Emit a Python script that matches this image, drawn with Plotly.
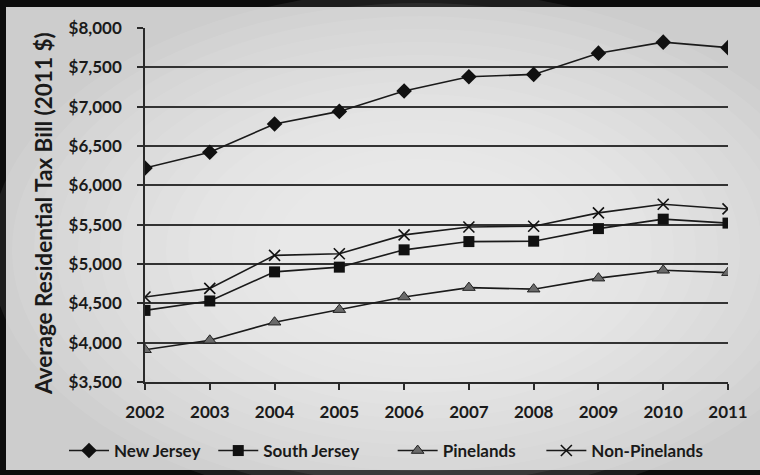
import plotly.graph_objects as go

years = [2002, 2003, 2004, 2005, 2006, 2007, 2008, 2009, 2010, 2011]
new_jersey = [6220, 6420, 6780, 6940, 7200, 7380, 7410, 7680, 7820, 7750]
south_jersey = [4410, 4530, 4900, 4960, 5180, 5285, 5290, 5450, 5570, 5520]
pinelands = [3910, 4030, 4260, 4420, 4580, 4700, 4680, 4820, 4920, 4890]
non_pinelands = [4580, 4690, 5110, 5130, 5370, 5470, 5480, 5650, 5760, 5700]
series_names = ["New Jersey", "South Jersey", "Pinelands", "Non-Pinelands"]
y_ticks = [3500, 4000, 4500, 5000, 5500, 6000, 6500, 7000, 7500, 8000]
y_tick_labels = ["$3,500", "$4,000", "$4,500", "$5,000", "$5,500",
                 "$6,000", "$6,500", "$7,000", "$7,500", "$8,000"]
y_title = "Average Residential Tax Bill (2011 $)"

FONT = "Lato"
W, H = 760, 475
L, R, T, B = 145, 32, 28, 93
PW, PH = W - L - R, H - T - B


def px_x(px):
    return (px - L) / PW


def px_y(py):
    return (H - B - py) / PH


fig = go.Figure()

markers = [
    dict(symbol="diamond", size=12, color="#111111", line=dict(width=0)),
    dict(symbol="square", size=11, color="#111111", line=dict(width=0)),
    dict(symbol="triangle-up", size=11, color="#6a6a6a",
         line=dict(width=1, color="#222222")),
    dict(symbol="x-thin-open", size=11, color="#111111",
         line=dict(width=1.6, color="#111111")),
]
values = [new_jersey, south_jersey, pinelands, non_pinelands]
pads = [2, 7, 5, 0]  # legend spacing (non-breaking spaces)
for name, vals, mk, p in zip(series_names, values, markers, pads):
    fig.add_trace(go.Scatter(
        x=years, y=vals, name=name + "\u00a0" * p, mode="lines+markers",
        line=dict(color="#1a1a1a", width=1.6),
        marker=mk,
    ))

shapes = [
    dict(type="rect", xref="paper", yref="paper", layer="below",
         x0=px_x(6), x1=px_x(760), y0=px_y(470), y1=px_y(7),
         fillcolor="#cdcdcd", line=dict(width=0)),
]
# smooth lighter centre (photocopy look)
cx, cy = 420, 250
for i in range(14):
    rx = 430 - i * 22
    ry = 260 - i * 13
    shapes.append(dict(type="circle", xref="paper", yref="paper", layer="below",
                       x0=px_x(cx - rx), x1=px_x(cx + rx),
                       y0=px_y(cy + ry), y1=px_y(cy - ry),
                       fillcolor="rgba(255,255,255,0.07)", line=dict(width=0)))

fig.update_layout(
    width=W, height=H,
    margin=dict(l=L, r=R, t=T, b=B, autoexpand=False),
    paper_bgcolor="#0c0c0c",
    plot_bgcolor="rgba(0,0,0,0)",
    font=dict(family=FONT, color="#1a1a1a"),
    shapes=shapes,
    showlegend=True,
    legend=dict(orientation="h", x=px_x(64), xanchor="left",
                y=px_y(451), yanchor="middle",
                font=dict(family=FONT, size=17, color="#1a1a1a", weight="bold"),
                bgcolor="rgba(0,0,0,0)", itemwidth=40, tracegroupgap=0),
    annotations=[dict(text=y_title, xref="paper", yref="paper",
                      x=px_x(44), y=px_y(214), textangle=-90,
                      showarrow=False, xanchor="center", yanchor="middle",
                      font=dict(family=FONT, size=22.5, color="#1a1a1a", weight="bold"))],
)

fig.update_xaxes(
    range=[2002, 2011], tickmode="array", tickvals=years,
    ticktext=[str(y) for y in years],
    showgrid=False, zeroline=False,
    showline=True, linecolor="#2a2a2a", linewidth=1.5,
    ticks="outside", ticklen=6, tickwidth=1.5, tickcolor="#2a2a2a",
    tickfont=dict(family=FONT, size=17, color="#1a1a1a", weight="bold"),
    ticklabelstandoff=8,
)
fig.update_yaxes(
    range=[3500, 8000], tickmode="array", tickvals=y_ticks, ticktext=y_tick_labels,
    showgrid=True, gridcolor="#333333", gridwidth=1.5, zeroline=False,
    showline=True, linecolor="#2a2a2a", linewidth=1.5,
    ticks="outside", ticklen=6, tickwidth=1.5, tickcolor="#2a2a2a",
    tickfont=dict(family=FONT, size=17, color="#1a1a1a", weight="bold"),
    ticklabelstandoff=12,
)

fig.write_html("out.html", config={"displayModeBar": False},
               post_script="document.body.style.margin='0';document.body.style.padding='0';")
